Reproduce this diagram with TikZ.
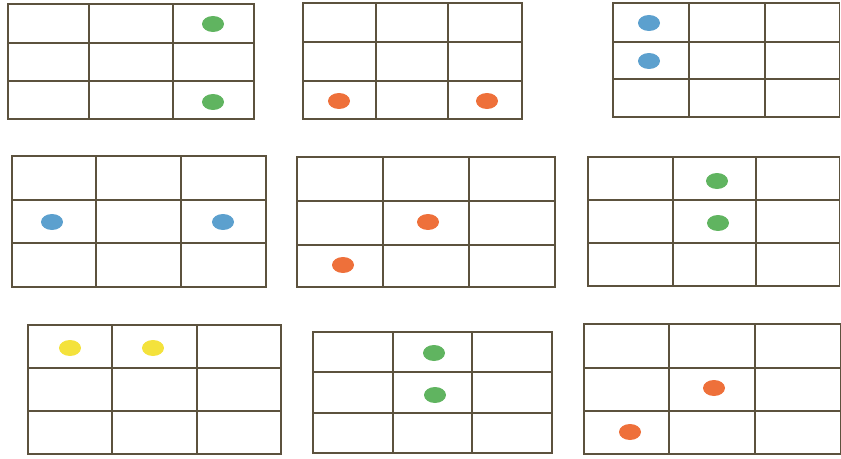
\documentclass[tikz,border=0pt]{standalone}
\usepackage{xcolor}
\usepackage{tikz}
\definecolor{gridbrown}{RGB}{92,82,62}
\definecolor{dotgreen}{RGB}{96,180,96}
\definecolor{dotorange}{RGB}{238,112,58}
\definecolor{dotblue}{RGB}{92,160,206}
\definecolor{dotyellow}{RGB}{244,226,60}
\tikzset{
  gridline/.style={gridbrown,line width=1.1pt},
  dot/.style={fill=#1}
}

\begin{document}
\begin{tikzpicture}[x=0.02cm,y=-0.02cm]
\useasboundingbox (0,0) rectangle (841,459);
% grids: left/right/top/bottom/vertical lines/horizontal lines
\foreach \l/\r/\t/\b/\va/\vb/\ha/\hb in {
  8/254/4/119/89/173/43/81,
  303/522/3/119/376/448/42/81,
  613/839.5/3/117/689/765/42/79,
  12/266/156/287/96/181/200/243,
  297/555/157/287/383/469/201/245,
  588/839.5/157/286/673/756/200/243,
  28/281/325/454/112/197/368/411,
  313/552/332/453/393/472/372/413,
  584/840.5/324/454/669/755/368/411}{
  \draw[gridline] (\l,\t) rectangle (\r,\b);
  \draw[gridline] (\va,\t)--(\va,\b) (\vb,\t)--(\vb,\b)
                  (\l,\ha)--(\r,\ha) (\l,\hb)--(\r,\hb);
}
% counters
\foreach \x/\y/\c in {
  213/24/dotgreen, 213/102/dotgreen,
  339/101/dotorange, 487/101/dotorange,
  649/23/dotblue, 649/61/dotblue,
  52/222/dotblue, 223/222/dotblue,
  428/222/dotorange, 343/265/dotorange,
  717/181/dotgreen, 718/223/dotgreen,
  70/348/dotyellow, 153/348/dotyellow,
  434/353/dotgreen, 435/395/dotgreen,
  714/388/dotorange, 630/432/dotorange}
  \fill[dot=\c] (\x,\y) ellipse [x radius=0.22cm, y radius=0.16cm];
\end{tikzpicture}
\end{document}
